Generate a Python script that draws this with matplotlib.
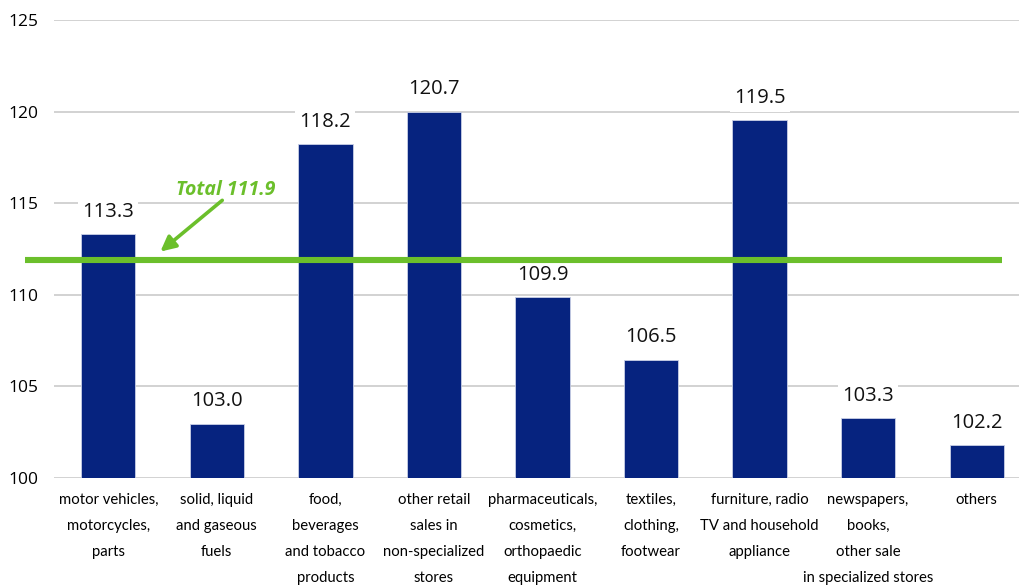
import matplotlib.pyplot as plt

# data
categories = [
    "motor vehicles,\nmotorcycles,\nparts",
    "solid, liquid\nand gaseous\nfuels",
    "food,\nbeverages\nand tobacco\nproducts",
    "other retail\nsales in\nnon-specialized\nstores",
    "pharmaceuticals,\ncosmetics,\northopaedic\nequipment",
    "textiles,\nclothing,\nfootwear",
    "furniture, radio\nTV and household\nappliance",
    "newspapers,\nbooks,\nother sale\nin specialized stores",
    "others",
]
values = [113.3, 103.0, 118.2, 120.7, 109.9, 106.5, 119.5, 103.3, 102.2]
# bar heights as drawn in the picture (a few differ from the printed labels)
bar_heights = [113.3, 102.95, 118.2, 120.0, 109.87, 106.45, 119.55, 103.27, 101.8]
total = 111.9
y_ticks = [100, 105, 110, 115, 120, 125]

bar_color = "#06237f"
green = "#6bbf2b"

fig = plt.figure(figsize=(10.19, 5.86), dpi=100)
ax = fig.add_axes([54 / 1019, 1 - 477.7 / 586, 1 - 54 / 1019, 457.7 / 586])

x = list(range(len(categories)))
ax.bar(x, bar_heights, width=0.5, color=bar_color, zorder=3,
       edgecolor="#c9d0e6", linewidth=0.6)

for xi, h, v in zip(x, bar_heights, values):
    ax.annotate(f"{v:.1f}", (xi, h), xytext=(0, 16), textcoords="offset points",
                ha="center", va="center", fontsize=14.5, family="Open Sans",
                color="#111111", zorder=4,
                bbox=dict(facecolor="white", edgecolor="none", pad=3))

# total line
ax.plot([-0.765, 8.23], [total, total], color=green, lw=4.4,
        solid_capstyle="butt", clip_on=False, zorder=5)
ax.annotate("", xy=(0.48, 112.35), xytext=(1.05, 115.15),
            arrowprops=dict(arrowstyle="-|>,head_length=0.9,head_width=0.45",
                            color=green, lw=2.6, shrinkA=0, shrinkB=0),
            zorder=6)
ax.text(1.08, 115.72, f"Total {total}", color=green, fontsize=14,
        fontweight="bold", fontstyle="italic", family="Open Sans",
        ha="center", va="center", zorder=6)

ax.set_xlim(-0.5, 8.39)
ax.set_ylim(100, 125)
ax.set_yticks(y_ticks)
ax.set_xticks(x)
ax.set_xticklabels(categories, family="Lato", fontsize=10.7, linespacing=2.1,
                   va="top")
ax.tick_params(axis="both", length=0, labelsize=12.5)
ax.tick_params(axis="x", pad=11, labelsize=10.7)
ax.tick_params(axis="y", pad=11)
for lab in ax.get_yticklabels():
    lab.set_family("Open Sans")

ax.grid(axis="y", color="#c6c6c6", lw=1.1, zorder=0)
ax.set_axisbelow(True)
for s in ax.spines.values():
    s.set_visible(False)

fig.savefig("out.png", dpi=100)
